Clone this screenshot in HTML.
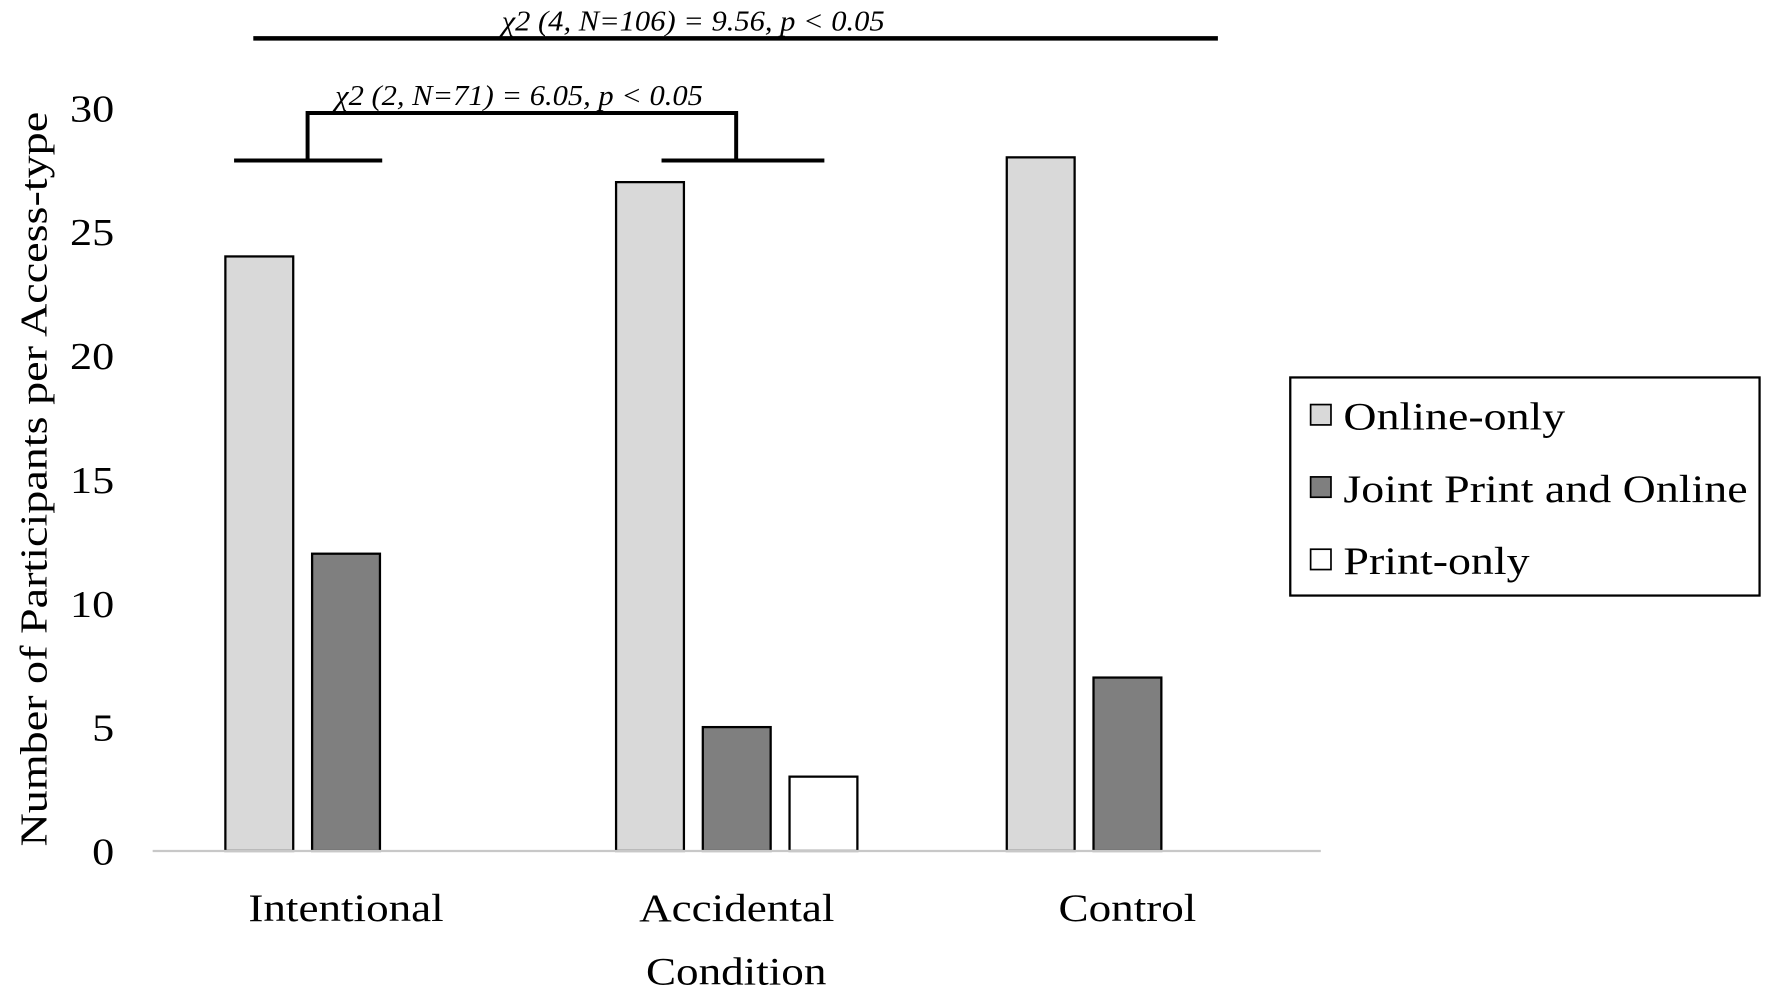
<!DOCTYPE html>
<html><head><meta charset="utf-8"><style>
html,body{margin:0;padding:0;background:#fff;}
svg{display:block;}
text{font-family:"Liberation Serif",serif;fill:#000;}
</style></head><body>
<svg id="chart" width="1772" height="999" viewBox="0 0 1567 884" preserveAspectRatio="none" xmlns="http://www.w3.org/2000/svg">
<g id="g"></g>
</svg>
<script>
const categories = ["Intentional", "Accidental", "Control"];
const seriesNames = ["Online-only", "Joint Print and Online", "Print-only"];
const onlineOnly = [24, 27, 28];
const jointPrintOnline = [12, 5, 7];
const printOnly = [0, 3, 0];
const yTicks = [0, 5, 10, 15, 20, 25, 30];

const NS = "http://www.w3.org/2000/svg";
const g = document.getElementById("g");
function el(tag, attrs, parent) {
  const e = document.createElementNS(NS, tag);
  for (const k in attrs) e.setAttribute(k, attrs[k]);
  (parent || g).appendChild(e);
  return e;
}
function txt(x, y, sx, attrs) {
  const a = Object.assign({x: 0, y: 0, transform: "translate(" + x + "," + y + ") scale(" + sx + ",1)"}, attrs);
  return el("text", a);
}
const y0 = 753, unit = 21.92;
function yScale(v) { return y0 - v * unit; }
const groupCenter0 = 306, groupStep = 345.5, slot = 76.7, barW = 60;
function xGroup(i) { return groupCenter0 + i * groupStep; }

yTicks.forEach(t => {
  const tx = txt(101, yScale(t) + 12, 1.15, {"text-anchor": "end", "font-size": 34});
  tx.textContent = t;
  
  
});
const yt = el("text", {x: 0, y: 0, transform: "translate(41,424) rotate(-90) scale(1.2,1)", "text-anchor": "middle", "font-size": 34});
yt.textContent = "Number of Participants  per Access-type";



const series = [onlineOnly, jointPrintOnline, printOnly];
const fills = ["#d9d9d9", "#7f7f7f", "#ffffff"];
categories.forEach((c, i) => {
  series.forEach((s, j) => {
    if (!s[i]) return;
    const cx = xGroup(i) + (j - 1) * slot;
    const r = el("rect", {x: cx - barW / 2, y: yScale(s[i]), width: barW, height: y0 - yScale(s[i]), fill: fills[j], stroke: "#000", "stroke-width": 2});
    
    
  });
  const lbl = txt(xGroup(i), 815, 1.14, {"text-anchor": "middle", "font-size": 35});
  lbl.textContent = c;
  
  
});
const ax = el("line", {x1: 135, x2: 1168, y1: y0, y2: y0, stroke: "#c8c8c8", "stroke-width": 2});


const xt = txt(651, 871, 1.14, {"text-anchor": "middle", "font-size": 35});
xt.textContent = "Condition";



const b1 = el("path", {d: "M224 34 H1077", stroke: "#000", "stroke-width": 4, fill: "none"});


const t1 = txt(613, 27, 1.08, {"text-anchor": "middle", "font-size": 25, "font-style": "italic"});
t1.textContent = "χ2 (4, N=106) = 9.56, p < 0.05";


const b2 = el("path", {d: "M207 142 H338 M272 142 V100 H651 V142 M585 142 H729", stroke: "#000", "stroke-width": 3.5, fill: "none"});


const t2 = txt(459, 93, 1.08, {"text-anchor": "middle", "font-size": 25, "font-style": "italic"});
t2.textContent = "χ2 (2, N=71) = 6.05, p < 0.05";



const lg = el("rect", {x: 1141, y: 334, width: 415, height: 193, fill: "#fff", stroke: "#000", "stroke-width": 2});


seriesNames.forEach((n, j) => {
  const yy = 368 + j * 64;
  const sw = el("rect", {x: 1159, y: yy - 10, width: 18, height: 18, fill: fills[j], stroke: "#000", "stroke-width": 1.5});
  
  
  const tx = txt(1188, yy + 12, 1.16, {"font-size": 35});
  tx.textContent = n;
  
  
});
</script>
</body></html>
